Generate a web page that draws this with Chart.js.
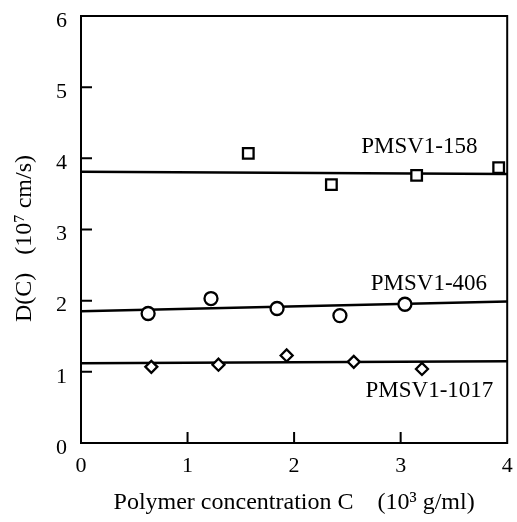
<!DOCTYPE html>
<html lang="en">
<head>
    <meta charset="UTF-8">
    <title>D(C) vs C</title>
    <script src="https://cdn.jsdelivr.net/npm/chart.js@4"></script>
    <style>
        html, body { margin: 0; padding: 0; background: #fff; }
        #box { width: 517px; height: 522px; }
    </style>
</head>
<body>
<div id="box"><canvas id="myChart"></canvas></div>

<script>
// data
const xTicks = [0, 1, 2, 3, 4];
const yTicks = [0, 1, 2, 3, 4, 5, 6];

const c158 = [1.57, 2.35, 3.15, 3.92];
const d158 = [4.07, 3.63, 3.76, 3.87];
const fit158 = [3.81, 3.78];

const c406 = [0.63, 1.22, 1.84, 2.43, 3.04];
const d406 = [1.82, 2.03, 1.89, 1.79, 1.95];
const fit406 = [1.85, 1.99];

const c1017 = [0.66, 1.29, 1.93, 2.56, 3.2];
const d1017 = [1.07, 1.10, 1.23, 1.14, 1.04];
const fit1017 = [1.12, 1.15];

const fitX = [0, 4];
const seriesNames = ['PMSV1-158', 'PMSV1-406', 'PMSV1-1017'];
const nameX = [2.63, 2.72, 2.67];
const nameY = [4.16, 2.23, 0.73];

function pts(xs, ys) {
  return xs.map(function (x, i) { return { x: x, y: ys[i] }; });
}

const FONT = 'Liberation Serif, Times New Roman, serif';

function marks(data, style, r) {
  return {
    type: 'scatter', data: data, pointStyle: style, pointRadius: r,
    pointBackgroundColor: '#fff', pointBorderColor: '#000', pointBorderWidth: 2.3,
    showLine: false
  };
}
function fitLine(ys) {
  return {
    type: 'line', data: pts(fitX, ys), borderColor: '#000', borderWidth: 2.5,
    pointRadius: 0, fill: false
  };
}

// inward ticks, frame and series names
const extras = {
  id: 'extras',
  afterDraw(chart) {
    const ctx = chart.ctx;
    const a = chart.chartArea;
    const sx = chart.scales.x, sy = chart.scales.y;
    ctx.save();
    ctx.strokeStyle = '#000';
    ctx.lineWidth = 2;
    ctx.strokeRect(a.left, a.top, a.right - a.left, a.bottom - a.top);
    ctx.beginPath();
    for (let v = 1; v <= 5; v++) {
      const py = sy.getPixelForValue(v);
      ctx.moveTo(a.left, py); ctx.lineTo(a.left + 11, py);
    }
    for (let v = 1; v <= 3; v++) {
      const px = sx.getPixelForValue(v);
      ctx.moveTo(px, a.bottom); ctx.lineTo(px, a.bottom - 11);
    }
    ctx.stroke();
    ctx.fillStyle = '#000';
    ctx.font = '23px ' + FONT;
    ctx.textBaseline = 'middle';
    ctx.textAlign = 'left';
    seriesNames.forEach(function (n, i) {
      ctx.fillText(n, sx.getPixelForValue(nameX[i]), sy.getPixelForValue(nameY[i]));
    });
    ctx.restore();
  }
};

new Chart(document.getElementById('myChart'), {
  data: {
    datasets: [
      marks(pts(c158, d158), 'rect', 7.5),
      marks(pts(c406, d406), 'circle', 6.5),
      marks(pts(c1017, d1017), 'rectRot', 6),
      fitLine(fit158),
      fitLine(fit406),
      fitLine(fit1017)
    ]
  },
  options: {
    responsive: true,
    maintainAspectRatio: false,
    animation: false,
    layout: { padding: { top: 16, right: 8, left: 0, bottom: 0 } },
    plugins: { legend: { display: false }, tooltip: { enabled: false } },
    scales: {
      x: {
        type: 'linear', min: 0, max: 4,
        afterBuildTicks(s) { s.ticks = xTicks.map(function (v) { return { value: v }; }); },
        afterFit(s) { s.height = 79; s.paddingLeft = 0; s.paddingRight = 0; },
        grid: { display: false, drawTicks: false },
        border: { display: false },
        ticks: { color: '#000', padding: 10, maxRotation: 0, font: { family: FONT, size: 22 } },
        title: {
          display: true, text: 'Polymer concentration C    (10\u00b3 g/ml)',
          color: '#000', font: { family: FONT, size: 24 }, padding: { top: 0, bottom: 5 }
        }
      },
      y: {
        type: 'linear', min: 0, max: 6,
        afterBuildTicks(s) { s.ticks = yTicks.map(function (v) { return { value: v }; }); },
        afterFit(s) { s.width = 81; s.paddingTop = 0; s.paddingBottom = 0; },
        grid: { display: false, drawTicks: false },
        border: { display: false },
        ticks: { color: '#000', padding: 14, labelOffset: 5, font: { family: FONT, size: 22 } },
        title: {
          display: true, text: 'D(C)   (10\u2077 cm/s)\u00a0\u00a0\u00a0',
          color: '#000', font: { family: FONT, size: 24 }, padding: { top: 10, bottom: 0 }
        }
      }
    }
  },
  plugins: [extras]
});
</script>
</body>
</html>
